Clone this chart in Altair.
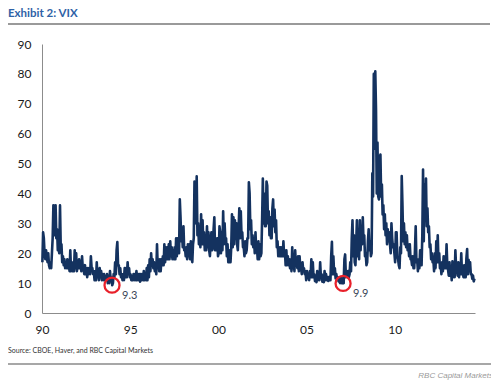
import altair as alt
import pandas as pd

# VIX, two readings per month (first half, second half), Jan 1990 onward
vix_1990 = [17, 27, 25, 20, 18, 21, 19, 17, 20, 16, 15, 17, 15, 20, 25, 36, 30, 26, 36, 25, 28, 21, 22, 20]
vix_1991 = [36, 22, 23, 17, 19, 16, 18, 15, 17, 15, 18, 15, 16, 14, 21, 14, 17, 14, 17, 14, 21, 15, 20, 14]
vix_1992 = [17, 15, 18, 15, 17, 14, 19, 15, 15, 13, 16, 13, 15, 12, 15, 13, 15, 13, 19, 15, 15, 13, 14, 11]
vix_1993 = [14, 11, 17, 12, 14, 11, 15, 12, 14, 11, 13, 11, 13, 11, 12, 11, 13, 10, 12, 10, 14, 11, 12, 9.3]
vix_1994 = [10, 13, 12, 17, 13, 21, 23.7, 16, 16, 13, 15, 12, 13, 11, 13, 11, 15, 12, 15, 12, 17, 13, 15, 12]
vix_1995 = [13, 11, 12, 11, 13, 11, 13, 11, 14, 11, 13, 11, 13, 10.5, 13, 11, 13, 11, 14, 11, 13, 11, 15, 11]
vix_1996 = [16, 12, 18, 14, 20, 16, 18, 15, 17, 14, 16, 13, 23, 15, 18, 14, 18, 14, 18, 16, 19, 16, 23, 17]
vix_1997 = [22, 18, 22, 18, 23, 18, 24, 19, 22, 18, 21, 18, 22, 18, 25, 19, 25, 20, 20, 38, 32, 24, 27, 22]
vix_1998 = [29, 21, 22, 19, 22, 18, 23, 19, 23, 18, 24, 19, 17, 23, 25, 44, 40, 30, 45.7, 26, 30, 23, 29, 22]
vix_1999 = [33, 23, 31, 23, 27, 21, 26, 21, 29, 22, 27, 21, 19, 24, 27, 21, 22, 28, 32, 21, 25, 21, 25, 19]
vix_2000 = [20, 29, 27, 20, 27, 21, 34, 23, 30, 24, 25, 19, 23, 17, 21, 17, 17, 22, 33, 22, 32, 23, 31, 25]
vix_2001 = [30, 23, 21, 28, 35, 25, 34, 26, 27, 22, 22, 19, 24, 20, 21, 25, 25, 43.7, 40, 28, 31, 23, 26, 22]
vix_2002 = [25, 20, 27, 21, 22, 18, 24, 18, 23, 19, 20, 31, 45, 30, 40, 29, 29, 44, 42.6, 30, 34, 26, 32, 25]
vix_2003 = [25, 35, 38, 29, 34.6, 27, 31, 22, 24, 19, 22, 19, 22, 19, 22, 19, 24, 19, 21, 16, 21, 16, 19, 16]
vix_2004 = [18, 15, 18, 14, 22, 15, 18, 14, 21, 16, 17, 15, 19, 14, 19, 15, 15, 13, 17, 14, 15, 13, 14, 11]
vix_2005 = [14, 12, 13, 11, 14, 12, 18, 12, 17, 12, 13, 10.7, 12, 10.3, 14, 11, 13, 11, 17, 12, 13, 10.5, 12, 10.3]
vix_2006 = [14, 11, 13, 11, 12, 10.7, 12, 11, 11, 19, 23.8, 13, 19, 13, 15, 11.6, 13, 11.5, 12, 10.6, 11.5, 10, 12, 10]
vix_2007 = [11.5, 9.9, 10, 18, 19.6, 12, 14, 12, 14, 12, 13, 17, 14, 25, 31, 19, 26, 17, 16, 23, 31, 19, 24, 18]
vix_2008 = [31, 21, 28, 23, 32, 24, 26, 19, 20, 16, 17, 24, 28, 21, 24, 19, 20, 46.7, 39, 80, 55, 80.9, 68, 40]
vix_2009 = [57, 39, 38, 52, 53, 39, 43, 33, 36, 28, 33, 26, 30, 23, 28, 24, 27, 23, 20, 30, 25, 22, 23, 20]
vix_2010 = [17, 27, 27, 19, 18, 16, 15, 22, 20, 45.8, 36, 24, 30, 23, 27, 22, 26, 21, 23, 19, 23, 18, 18, 16]
vix_2011 = [19, 15, 15, 21, 29, 17, 18, 14, 18, 15, 21, 16, 16, 26, 48, 24, 43, 31, 45, 29, 35, 27, 29, 22]
vix_2012 = [23, 18, 20, 17, 18, 14, 20, 15, 24, 17, 26, 17, 20, 15, 16, 13, 17, 14, 19, 15, 19, 15, 23, 16]
vix_2013 = [14.5, 12.5, 17, 12.5, 14, 11, 17.3, 12, 14, 12, 21, 15, 14.5, 12.5, 17, 12, 16.6, 13, 20, 13, 14, 12, 16, 12]
vix_2014 = [12, 18.4, 21.4, 13, 17.8, 14, 17, 13, 13, 11.4, 12.5, 10.6, 11.5]

years = list(range(1990, 2015))
series = [vix_1990, vix_1991, vix_1992, vix_1993, vix_1994, vix_1995, vix_1996,
          vix_1997, vix_1998, vix_1999, vix_2000, vix_2001, vix_2002, vix_2003,
          vix_2004, vix_2005, vix_2006, vix_2007, vix_2008, vix_2009, vix_2010,
          vix_2011, vix_2012, vix_2013, vix_2014]

rows = []
for yr, vals in zip(years, series):
    for i, v in enumerate(vals):
        month = i // 2
        half = 0.25 if i % 2 == 0 else 0.75
        rows.append({"t": yr + (month + half) / 12.0, "vix": v})
df = pd.DataFrame(rows)

# annotated lows
low_t = [1993.97, 2007.07]
low_v = [9.3, 9.9]
low_label = ["9.3", "9.9"]
ann = pd.DataFrame({"t": low_t, "vix": low_v, "label": low_label})

title_text = "Exhibit 2: VIX"
source_text = "Source: CBOE, Haver, and RBC Capital Markets"
brand_text = "RBC Capital Markets"
year_ticks = [1990, 1995, 2000, 2005, 2010]
vix_ticks = [0, 10, 20, 30, 40, 50, 60, 70, 80, 90]

W, H = 433, 269

xscale = alt.Scale(domain=[1990, 2014.55], nice=False, zero=False)
yscale = alt.Scale(domain=[0, 90], nice=False)

xaxis = alt.Axis(values=year_ticks, labelExpr="slice(toString(datum.value), 2)",
                 title=None, labelPadding=11, labelFlush=False, labelOverlap=False)
yaxis = alt.Axis(values=vix_ticks, title=None, labelPadding=11, labelOverlap=False)

line = alt.Chart(df).mark_line(color="#14325f", strokeWidth=2.6, strokeJoin="round").encode(
    x=alt.X("t:Q", scale=xscale, axis=xaxis),
    y=alt.Y("vix:Q", scale=yscale, axis=yaxis),
)

circles = alt.Chart(ann).mark_point(shape="circle", size=225, filled=False,
                                    color="#e8202a", strokeWidth=2.3, opacity=1).encode(
    x=alt.X("t:Q", scale=xscale, axis=xaxis), y=alt.Y("vix:Q", scale=yscale, axis=yaxis))

labels = alt.Chart(ann).mark_text(align="left", baseline="middle", dx=10, dy=11,
                                  fontSize=11, font="Lato", color="#3a4657").encode(
    x=alt.X("t:Q", scale=xscale, axis=xaxis), y=alt.Y("vix:Q", scale=yscale, axis=yaxis),
    text="label:N")

one = alt.Data(values=[{}])

title = alt.Chart(one).mark_text(text=title_text, align="left", baseline="alphabetic",
                                 font="Lato", fontWeight="bold", fontSize=11.5,
                                 color="#2f62a6").encode(x=alt.value(-34), y=alt.value(-27))
top_rule = alt.Chart(one).mark_rule(color="#9a9a9a", strokeWidth=2).encode(
    x=alt.value(-36), x2=alt.value(448), y=alt.value(-20))
source = alt.Chart(one).mark_text(text=source_text, align="left", baseline="middle",
                                  font="Lato", fontSize=7, color="#333333").encode(
    x=alt.value(-34), y=alt.value(307))
bottom_rule = alt.Chart(one).mark_rule(color="#8a8a8a", strokeWidth=1.5).encode(
    x=alt.value(-35), x2=alt.value(449), y=alt.value(320))
brand = alt.Chart(one).mark_text(text=brand_text, align="right", baseline="middle",
                                 font="Liberation Sans", fontStyle="italic", fontSize=8,
                                 color="#9a9a9a").encode(x=alt.value(451), y=alt.value(332))

chart = alt.layer(line, circles, labels, title, top_rule, source, bottom_rule, brand).properties(
    width=W, height=H,
    autosize=alt.AutoSizeParams(type="none"),
    padding={"left": 34, "top": 36, "right": 16, "bottom": 68},
).configure(
    background="white",
    view=alt.ViewConfig(stroke=None),
    axis=alt.AxisConfig(ticks=False, tickSize=0, grid=False, domainColor="#8c8c8c",
                        domainWidth=1, labelFontSize=12, labelFont="Lato",
                        labelColor="#1a1a1a", labelOverlap=False),
)

chart.save("out.html", embed_options={"renderer": "svg", "actions": False})
